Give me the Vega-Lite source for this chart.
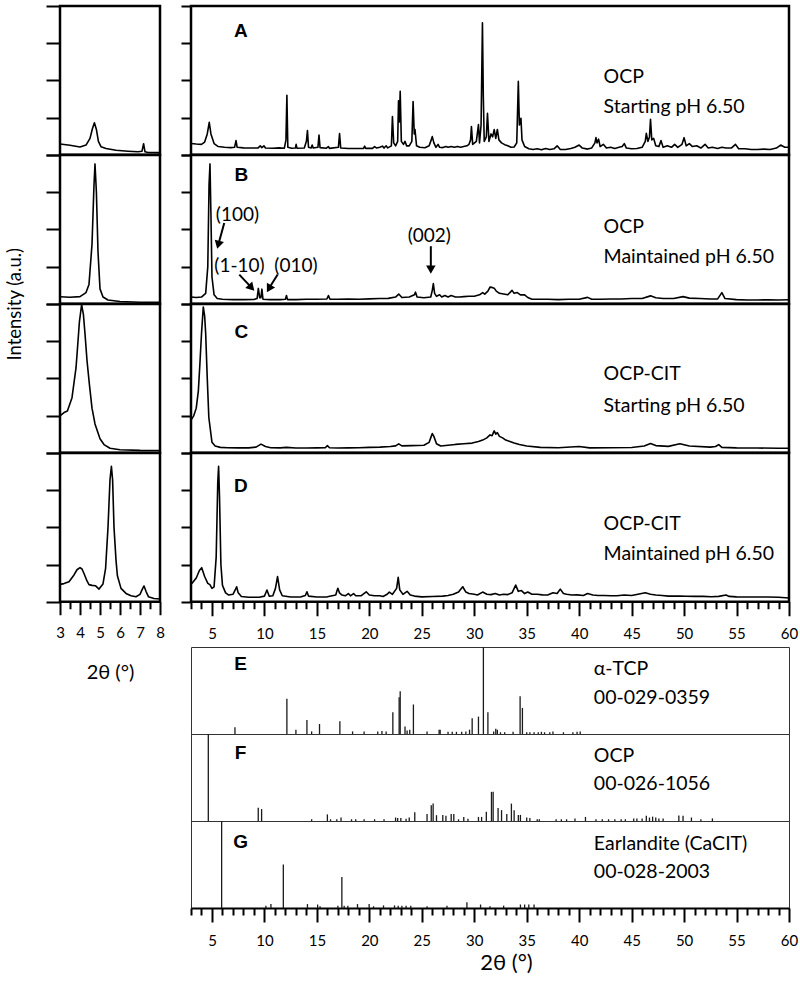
{
  "$schema": "https://vega.github.io/schema/vega-lite/v6.json",
  "background": "white",
  "padding": {"top": 3, "left": 3, "right": 2, "bottom": 2},
  "config": {
    "view": {"stroke": "black", "strokeWidth": 2.5},
    "axis": {
      "domain": false, "grid": false, "tickColor": "black", "tickWidth": 2,
      "labelFont": "Lato, Open Sans, sans-serif", "labelFontSize": 15, "labelColor": "black",
      "titleFont": "Lato, Open Sans, sans-serif", "titleFontWeight": "normal", "titleColor": "black"
    },
    "line": {"color": "black", "strokeWidth": 1.6, "strokeJoin": "round"},
    "rule": {"color": "#1a1a1a", "strokeWidth": 1.3},
    "text": {"font": "Lato, Open Sans, sans-serif", "fontSize": 19.5, "color": "black"}
  },
  "datasets": {
    "zoom": [
      {"panel":"A","tt":3.0,"I":7.2},{"panel":"A","tt":3.5,"I":6.4},{"panel":"A","tt":4.0,"I":5.2},{"panel":"A","tt":4.3,"I":6.5},{"panel":"A","tt":4.5,"I":11},{"panel":"A","tt":4.62,"I":17.5},{"panel":"A","tt":4.72,"I":21.5},{"panel":"A","tt":4.82,"I":17},{"panel":"A","tt":4.92,"I":9},{"panel":"A","tt":5.05,"I":5.4},{"panel":"A","tt":5.3,"I":4.2},{"panel":"A","tt":5.8,"I":3},{"panel":"A","tt":6.4,"I":2.4},{"panel":"A","tt":6.9,"I":2},{"panel":"A","tt":7.1,"I":2.4},{"panel":"A","tt":7.18,"I":7.4},{"panel":"A","tt":7.25,"I":2},{"panel":"A","tt":7.4,"I":1.5},{"panel":"A","tt":8.0,"I":1.4},
      {"panel":"B","tt":3.0,"I":4.7},{"panel":"B","tt":3.5,"I":4.4},{"panel":"B","tt":4.0,"I":4.8},{"panel":"B","tt":4.3,"I":7.5},{"panel":"B","tt":4.45,"I":13},{"panel":"B","tt":4.6,"I":40},{"panel":"B","tt":4.7,"I":80},{"panel":"B","tt":4.75,"I":94},{"panel":"B","tt":4.82,"I":75},{"panel":"B","tt":4.9,"I":35},{"panel":"B","tt":5.0,"I":10},{"panel":"B","tt":5.15,"I":4.5},{"panel":"B","tt":5.4,"I":2.5},{"panel":"B","tt":6.0,"I":1.5},{"panel":"B","tt":7.0,"I":1},{"panel":"B","tt":8.0,"I":1},
      {"panel":"C","tt":3.0,"I":24.8},{"panel":"C","tt":3.2,"I":27},{"panel":"C","tt":3.37,"I":28},{"panel":"C","tt":3.6,"I":37},{"panel":"C","tt":3.8,"I":57},{"panel":"C","tt":3.9,"I":75},{"panel":"C","tt":3.97,"I":88},{"panel":"C","tt":4.08,"I":99.5},{"panel":"C","tt":4.17,"I":93},{"panel":"C","tt":4.25,"I":80},{"panel":"C","tt":4.35,"I":62},{"panel":"C","tt":4.47,"I":46},{"panel":"C","tt":4.6,"I":30},{"panel":"C","tt":4.75,"I":19.4},{"panel":"C","tt":5.0,"I":9.4},{"panel":"C","tt":5.2,"I":5.5},{"panel":"C","tt":5.5,"I":3},{"panel":"C","tt":6.0,"I":2},{"panel":"C","tt":7.0,"I":1.6},{"panel":"C","tt":8.0,"I":1.5},
      {"panel":"D","tt":3.0,"I":11.7},{"panel":"D","tt":3.2,"I":12.2},{"panel":"D","tt":3.45,"I":13.5},{"panel":"D","tt":3.7,"I":18},{"panel":"D","tt":3.85,"I":21.5},{"panel":"D","tt":4.0,"I":22.9},{"panel":"D","tt":4.1,"I":22},{"panel":"D","tt":4.2,"I":19},{"panel":"D","tt":4.35,"I":14},{"panel":"D","tt":4.45,"I":11.5},{"panel":"D","tt":4.6,"I":11},{"panel":"D","tt":4.77,"I":10.8},{"panel":"D","tt":4.95,"I":8.5},{"panel":"D","tt":5.15,"I":12},{"panel":"D","tt":5.28,"I":22.5},{"panel":"D","tt":5.4,"I":50},{"panel":"D","tt":5.5,"I":82},{"panel":"D","tt":5.57,"I":91},{"panel":"D","tt":5.63,"I":82},{"panel":"D","tt":5.7,"I":50},{"panel":"D","tt":5.8,"I":28},{"panel":"D","tt":5.87,"I":17.5},{"panel":"D","tt":6.05,"I":9},{"panel":"D","tt":6.3,"I":5.6},{"panel":"D","tt":6.55,"I":4},{"panel":"D","tt":6.8,"I":3.4},{"panel":"D","tt":7.0,"I":5},{"panel":"D","tt":7.1,"I":8},{"panel":"D","tt":7.2,"I":10.6},{"panel":"D","tt":7.3,"I":7},{"panel":"D","tt":7.42,"I":3.4},{"panel":"D","tt":7.7,"I":2.2},{"panel":"D","tt":8.0,"I":1.8}
    ],
    "scans": [
      {"panel":"A","tt":3.0,"I":7.6},{"panel":"A","tt":3.5,"I":7.2},{"panel":"A","tt":4.0,"I":7.0},{"panel":"A","tt":4.3,"I":8.5},{"panel":"A","tt":4.55,"I":14},{"panel":"A","tt":4.74,"I":21.8},{"panel":"A","tt":4.9,"I":14},{"panel":"A","tt":5.2,"I":7.5},{"panel":"A","tt":5.6,"I":5.5},{"panel":"A","tt":6.2,"I":5},{"panel":"A","tt":6.8,"I":4.8},{"panel":"A","tt":7.15,"I":5},{"panel":"A","tt":7.29,"I":9.5},{"panel":"A","tt":7.4,"I":5},{"panel":"A","tt":8.0,"I":4.6},{"panel":"A","tt":8.8,"I":4.5},{"panel":"A","tt":9.4,"I":4.6},{"panel":"A","tt":9.6,"I":6},{"panel":"A","tt":9.75,"I":4.8},{"panel":"A","tt":9.95,"I":6},{"panel":"A","tt":10.1,"I":4.5},{"panel":"A","tt":10.8,"I":4.4},{"panel":"A","tt":11.4,"I":4.6},{"panel":"A","tt":11.9,"I":4.4},{"panel":"A","tt":12.05,"I":10},{"panel":"A","tt":12.14,"I":40},{"panel":"A","tt":12.23,"I":5},{"panel":"A","tt":12.6,"I":4.4},{"panel":"A","tt":12.95,"I":4.5},{"panel":"A","tt":13.02,"I":7},{"panel":"A","tt":13.1,"I":4.4},{"panel":"A","tt":13.8,"I":4.5},{"panel":"A","tt":14.0,"I":9},{"panel":"A","tt":14.1,"I":16.2},{"panel":"A","tt":14.2,"I":5},{"panel":"A","tt":14.45,"I":4.6},{"panel":"A","tt":14.55,"I":6.5},{"panel":"A","tt":14.65,"I":4.5},{"panel":"A","tt":15.1,"I":5},{"panel":"A","tt":15.2,"I":13.3},{"panel":"A","tt":15.3,"I":4.8},{"panel":"A","tt":15.9,"I":4.4},{"panel":"A","tt":16.1,"I":5.5},{"panel":"A","tt":16.2,"I":4.3},{"panel":"A","tt":17.05,"I":5},{"panel":"A","tt":17.16,"I":14.2},{"panel":"A","tt":17.27,"I":4.5},{"panel":"A","tt":18.0,"I":4.2},{"panel":"A","tt":18.8,"I":4.2},{"panel":"A","tt":19.45,"I":4.3},{"panel":"A","tt":19.55,"I":5.8},{"panel":"A","tt":19.65,"I":4.3},{"panel":"A","tt":20.3,"I":4.3},{"panel":"A","tt":20.5,"I":5.5},{"panel":"A","tt":20.7,"I":4.5},{"panel":"A","tt":21.0,"I":5},{"panel":"A","tt":21.25,"I":5.8},{"panel":"A","tt":21.4,"I":4.5},{"panel":"A","tt":21.6,"I":6},{"panel":"A","tt":21.75,"I":4.6},{"panel":"A","tt":22.1,"I":6},{"panel":"A","tt":22.2,"I":25.7},{"panel":"A","tt":22.32,"I":8},{"panel":"A","tt":22.5,"I":6},{"panel":"A","tt":22.7,"I":9},{"panel":"A","tt":22.78,"I":36.3},{"panel":"A","tt":22.86,"I":22},{"panel":"A","tt":22.94,"I":42.6},{"panel":"A","tt":23.05,"I":9},{"panel":"A","tt":23.25,"I":7},{"panel":"A","tt":23.4,"I":9},{"panel":"A","tt":23.55,"I":6},{"panel":"A","tt":23.8,"I":6},{"panel":"A","tt":24.05,"I":9},{"panel":"A","tt":24.17,"I":35.8},{"panel":"A","tt":24.28,"I":14},{"panel":"A","tt":24.35,"I":17},{"panel":"A","tt":24.5,"I":6},{"panel":"A","tt":24.8,"I":5},{"panel":"A","tt":25.3,"I":4.7},{"panel":"A","tt":25.7,"I":6},{"panel":"A","tt":25.9,"I":10},{"panel":"A","tt":26.0,"I":12.2},{"panel":"A","tt":26.15,"I":8},{"panel":"A","tt":26.35,"I":5},{"panel":"A","tt":26.55,"I":7},{"panel":"A","tt":26.7,"I":5},{"panel":"A","tt":27.0,"I":4.8},{"panel":"A","tt":27.3,"I":5.5},{"panel":"A","tt":27.5,"I":5},{"panel":"A","tt":27.8,"I":5.5},{"panel":"A","tt":28.1,"I":5},{"panel":"A","tt":28.4,"I":5.6},{"panel":"A","tt":28.7,"I":5},{"panel":"A","tt":29.0,"I":5.5},{"panel":"A","tt":29.3,"I":6},{"panel":"A","tt":29.5,"I":7},{"panel":"A","tt":29.65,"I":10},{"panel":"A","tt":29.73,"I":18.9},{"panel":"A","tt":29.85,"I":7},{"panel":"A","tt":30.2,"I":9},{"panel":"A","tt":30.4,"I":20.3},{"panel":"A","tt":30.5,"I":8},{"panel":"A","tt":30.65,"I":20},{"panel":"A","tt":30.78,"I":88.7},{"panel":"A","tt":30.86,"I":40},{"panel":"A","tt":30.95,"I":9},{"panel":"A","tt":31.15,"I":12},{"panel":"A","tt":31.26,"I":27.9},{"panel":"A","tt":31.4,"I":9},{"panel":"A","tt":31.6,"I":14},{"panel":"A","tt":31.75,"I":12},{"panel":"A","tt":31.9,"I":16.9},{"panel":"A","tt":32.05,"I":11},{"panel":"A","tt":32.2,"I":17},{"panel":"A","tt":32.35,"I":10},{"panel":"A","tt":32.6,"I":8},{"panel":"A","tt":32.9,"I":6.8},{"panel":"A","tt":33.2,"I":6},{"panel":"A","tt":33.5,"I":5},{"panel":"A","tt":33.8,"I":5.2},{"panel":"A","tt":34.05,"I":8},{"panel":"A","tt":34.2,"I":49.3},{"panel":"A","tt":34.3,"I":20},{"panel":"A","tt":34.45,"I":24.5},{"panel":"A","tt":34.55,"I":10},{"panel":"A","tt":34.8,"I":5.5},{"panel":"A","tt":35.2,"I":4},{"panel":"A","tt":35.6,"I":3.5},{"panel":"A","tt":36.0,"I":4},{"panel":"A","tt":36.4,"I":3.3},{"panel":"A","tt":36.8,"I":4.2},{"panel":"A","tt":37.2,"I":3.5},{"panel":"A","tt":37.6,"I":4},{"panel":"A","tt":37.9,"I":6},{"panel":"A","tt":38.2,"I":3.5},{"panel":"A","tt":38.7,"I":3.5},{"panel":"A","tt":39.2,"I":4.2},{"panel":"A","tt":39.6,"I":5},{"panel":"A","tt":40.0,"I":6.5},{"panel":"A","tt":40.3,"I":4.5},{"panel":"A","tt":40.8,"I":3.8},{"panel":"A","tt":41.2,"I":4.6},{"panel":"A","tt":41.5,"I":8},{"panel":"A","tt":41.6,"I":11.5},{"panel":"A","tt":41.7,"I":8},{"panel":"A","tt":41.85,"I":10.5},{"panel":"A","tt":42.0,"I":5.5},{"panel":"A","tt":42.3,"I":7},{"panel":"A","tt":42.6,"I":4.5},{"panel":"A","tt":43.0,"I":5},{"panel":"A","tt":43.4,"I":4.2},{"panel":"A","tt":43.8,"I":5},{"panel":"A","tt":44.1,"I":5.5},{"panel":"A","tt":44.3,"I":7.5},{"panel":"A","tt":44.5,"I":4.5},{"panel":"A","tt":45.0,"I":4},{"panel":"A","tt":45.5,"I":4.2},{"panel":"A","tt":46.0,"I":5},{"panel":"A","tt":46.3,"I":9},{"panel":"A","tt":46.4,"I":14.4},{"panel":"A","tt":46.55,"I":9},{"panel":"A","tt":46.7,"I":12},{"panel":"A","tt":46.8,"I":23.9},{"panel":"A","tt":46.92,"I":10},{"panel":"A","tt":47.1,"I":11},{"panel":"A","tt":47.3,"I":6},{"panel":"A","tt":47.6,"I":5.5},{"panel":"A","tt":47.8,"I":9.5},{"panel":"A","tt":48.0,"I":5},{"panel":"A","tt":48.4,"I":6},{"panel":"A","tt":48.8,"I":5},{"panel":"A","tt":49.1,"I":7},{"panel":"A","tt":49.4,"I":5},{"panel":"A","tt":49.8,"I":7},{"panel":"A","tt":50.0,"I":11.5},{"panel":"A","tt":50.2,"I":6},{"panel":"A","tt":50.5,"I":7.5},{"panel":"A","tt":50.8,"I":5.5},{"panel":"A","tt":51.2,"I":6},{"panel":"A","tt":51.6,"I":4.5},{"panel":"A","tt":52.0,"I":7},{"panel":"A","tt":52.3,"I":4.5},{"panel":"A","tt":52.7,"I":5},{"panel":"A","tt":53.2,"I":4.2},{"panel":"A","tt":53.6,"I":5},{"panel":"A","tt":54.0,"I":4.5},{"panel":"A","tt":54.5,"I":4.5},{"panel":"A","tt":54.9,"I":7},{"panel":"A","tt":55.2,"I":4},{"panel":"A","tt":55.8,"I":4},{"panel":"A","tt":56.4,"I":3.5},{"panel":"A","tt":57.0,"I":3.5},{"panel":"A","tt":57.6,"I":3.8},{"panel":"A","tt":58.2,"I":3.5},{"panel":"A","tt":58.8,"I":4.5},{"panel":"A","tt":59.2,"I":6.5},{"panel":"A","tt":59.6,"I":5},{"panel":"A","tt":60.0,"I":5},
      {"panel":"B","tt":3.0,"I":4.5},{"panel":"B","tt":3.5,"I":4.2},{"panel":"B","tt":4.0,"I":4.5},{"panel":"B","tt":4.4,"I":7},{"panel":"B","tt":4.6,"I":25},{"panel":"B","tt":4.72,"I":80},{"panel":"B","tt":4.81,"I":94},{"panel":"B","tt":4.9,"I":60},{"panel":"B","tt":5.0,"I":18},{"panel":"B","tt":5.2,"I":6},{"panel":"B","tt":5.5,"I":3.5},{"panel":"B","tt":6.0,"I":3},{"panel":"B","tt":7.0,"I":2.8},{"panel":"B","tt":8.0,"I":2.8},{"panel":"B","tt":9.0,"I":2.9},{"panel":"B","tt":9.3,"I":3.5},{"panel":"B","tt":9.42,"I":10.3},{"panel":"B","tt":9.55,"I":4},{"panel":"B","tt":9.66,"I":4},{"panel":"B","tt":9.76,"I":9.8},{"panel":"B","tt":9.86,"I":3},{"panel":"B","tt":10.5,"I":2.8},{"panel":"B","tt":11.5,"I":2.8},{"panel":"B","tt":12.0,"I":3},{"panel":"B","tt":12.1,"I":5.5},{"panel":"B","tt":12.2,"I":2.8},{"panel":"B","tt":13.0,"I":2.8},{"panel":"B","tt":14.0,"I":3},{"panel":"B","tt":15.0,"I":3},{"panel":"B","tt":15.95,"I":3.2},{"panel":"B","tt":16.1,"I":5.5},{"panel":"B","tt":16.25,"I":3},{"panel":"B","tt":17.0,"I":3},{"panel":"B","tt":18.0,"I":3.2},{"panel":"B","tt":19.0,"I":3},{"panel":"B","tt":20.0,"I":3.3},{"panel":"B","tt":21.0,"I":3.5},{"panel":"B","tt":21.8,"I":3.6},{"panel":"B","tt":22.5,"I":4.5},{"panel":"B","tt":22.8,"I":6.5},{"panel":"B","tt":23.1,"I":4.2},{"panel":"B","tt":23.8,"I":4.5},{"panel":"B","tt":24.3,"I":6},{"panel":"B","tt":24.4,"I":7.8},{"panel":"B","tt":24.55,"I":4.5},{"panel":"B","tt":25.2,"I":4},{"panel":"B","tt":25.85,"I":4.5},{"panel":"B","tt":26.0,"I":9},{"panel":"B","tt":26.1,"I":13.6},{"panel":"B","tt":26.22,"I":7},{"panel":"B","tt":26.4,"I":5},{"panel":"B","tt":26.7,"I":6},{"panel":"B","tt":26.9,"I":4.5},{"panel":"B","tt":27.2,"I":5.5},{"panel":"B","tt":27.5,"I":4.5},{"panel":"B","tt":27.8,"I":5.5},{"panel":"B","tt":28.2,"I":4.5},{"panel":"B","tt":28.6,"I":4.5},{"panel":"B","tt":29.0,"I":4.8},{"panel":"B","tt":29.5,"I":5},{"panel":"B","tt":30.0,"I":5},{"panel":"B","tt":30.5,"I":6},{"panel":"B","tt":30.8,"I":7.5},{"panel":"B","tt":31.0,"I":6.5},{"panel":"B","tt":31.3,"I":8.5},{"panel":"B","tt":31.5,"I":11.2},{"panel":"B","tt":31.7,"I":11},{"panel":"B","tt":31.9,"I":10.5},{"panel":"B","tt":32.1,"I":8.5},{"panel":"B","tt":32.4,"I":7},{"panel":"B","tt":32.8,"I":6.5},{"panel":"B","tt":33.2,"I":6},{"panel":"B","tt":33.6,"I":9},{"panel":"B","tt":33.8,"I":7},{"panel":"B","tt":34.1,"I":7.5},{"panel":"B","tt":34.4,"I":6},{"panel":"B","tt":34.8,"I":6},{"panel":"B","tt":35.1,"I":4.2},{"panel":"B","tt":35.5,"I":3},{"panel":"B","tt":36.0,"I":3},{"panel":"B","tt":37.0,"I":3},{"panel":"B","tt":38.0,"I":2.8},{"panel":"B","tt":39.0,"I":3},{"panel":"B","tt":40.0,"I":3},{"panel":"B","tt":40.8,"I":4.3},{"panel":"B","tt":41.2,"I":3},{"panel":"B","tt":42.0,"I":3},{"panel":"B","tt":43.0,"I":3.2},{"panel":"B","tt":44.0,"I":3.2},{"panel":"B","tt":45.0,"I":3.5},{"panel":"B","tt":46.0,"I":3.5},{"panel":"B","tt":46.8,"I":5.3},{"panel":"B","tt":47.3,"I":4},{"panel":"B","tt":48.0,"I":3.5},{"panel":"B","tt":49.0,"I":3.5},{"panel":"B","tt":49.9,"I":4.8},{"panel":"B","tt":50.5,"I":3.8},{"panel":"B","tt":51.5,"I":3.5},{"panel":"B","tt":52.5,"I":3.2},{"panel":"B","tt":53.2,"I":3.3},{"panel":"B","tt":53.6,"I":7.5},{"panel":"B","tt":53.9,"I":3.5},{"panel":"B","tt":55.0,"I":2.8},{"panel":"B","tt":56.0,"I":2.5},{"panel":"B","tt":57.0,"I":2.5},{"panel":"B","tt":58.0,"I":2.7},{"panel":"B","tt":59.0,"I":2.5},{"panel":"B","tt":60.0,"I":2.7},
      {"panel":"C","tt":3.0,"I":22},{"panel":"C","tt":3.26,"I":24.8},{"panel":"C","tt":3.5,"I":30},{"panel":"C","tt":3.7,"I":41.6},{"panel":"C","tt":3.85,"I":60},{"panel":"C","tt":4.0,"I":80},{"panel":"C","tt":4.17,"I":98},{"panel":"C","tt":4.3,"I":92},{"panel":"C","tt":4.4,"I":80},{"panel":"C","tt":4.55,"I":50},{"panel":"C","tt":4.7,"I":23.7},{"panel":"C","tt":5.0,"I":7},{"panel":"C","tt":5.3,"I":4.5},{"panel":"C","tt":5.8,"I":3.6},{"panel":"C","tt":6.5,"I":3.4},{"panel":"C","tt":7.5,"I":3.3},{"panel":"C","tt":8.5,"I":3.3},{"panel":"C","tt":9.2,"I":3.8},{"panel":"C","tt":9.67,"I":5.8},{"panel":"C","tt":10.1,"I":4.2},{"panel":"C","tt":10.6,"I":3.4},{"panel":"C","tt":11.5,"I":3.3},{"panel":"C","tt":12.1,"I":3.6},{"panel":"C","tt":13.0,"I":3.2},{"panel":"C","tt":14.0,"I":3.2},{"panel":"C","tt":15.0,"I":3.3},{"panel":"C","tt":15.8,"I":3.4},{"panel":"C","tt":16.0,"I":4.8},{"panel":"C","tt":16.2,"I":3.4},{"panel":"C","tt":17.0,"I":3.2},{"panel":"C","tt":18.0,"I":3.3},{"panel":"C","tt":19.0,"I":3.4},{"panel":"C","tt":20.0,"I":3.6},{"panel":"C","tt":21.0,"I":3.8},{"panel":"C","tt":22.0,"I":4.2},{"panel":"C","tt":22.5,"I":4.6},{"panel":"C","tt":22.8,"I":6},{"panel":"C","tt":23.1,"I":4.6},{"panel":"C","tt":24.0,"I":4.8},{"panel":"C","tt":25.2,"I":5},{"panel":"C","tt":25.7,"I":7},{"panel":"C","tt":25.9,"I":11},{"panel":"C","tt":26.0,"I":12.9},{"panel":"C","tt":26.15,"I":11},{"panel":"C","tt":26.4,"I":6},{"panel":"C","tt":26.8,"I":4.5},{"panel":"C","tt":27.5,"I":5},{"panel":"C","tt":28.2,"I":5.6},{"panel":"C","tt":29.0,"I":6},{"panel":"C","tt":29.8,"I":6.5},{"panel":"C","tt":30.4,"I":7.5},{"panel":"C","tt":30.8,"I":8.5},{"panel":"C","tt":31.2,"I":10},{"panel":"C","tt":31.5,"I":12},{"panel":"C","tt":31.7,"I":11.5},{"panel":"C","tt":31.9,"I":14.7},{"panel":"C","tt":32.05,"I":12.5},{"panel":"C","tt":32.2,"I":13.5},{"panel":"C","tt":32.4,"I":11},{"panel":"C","tt":32.7,"I":10},{"panel":"C","tt":33.0,"I":8.5},{"panel":"C","tt":33.4,"I":7.5},{"panel":"C","tt":33.8,"I":6.5},{"panel":"C","tt":34.3,"I":5.5},{"panel":"C","tt":35.0,"I":4.5},{"panel":"C","tt":36.3,"I":3.6},{"panel":"C","tt":38.0,"I":3.4},{"panel":"C","tt":40.0,"I":4.2},{"panel":"C","tt":41.0,"I":3.3},{"panel":"C","tt":43.0,"I":3.4},{"panel":"C","tt":45.0,"I":3.5},{"panel":"C","tt":46.2,"I":4.5},{"panel":"C","tt":46.8,"I":6.2},{"panel":"C","tt":47.3,"I":4.8},{"panel":"C","tt":48.5,"I":4.3},{"panel":"C","tt":49.6,"I":6},{"panel":"C","tt":50.5,"I":4.5},{"panel":"C","tt":52.5,"I":3.8},{"panel":"C","tt":53.0,"I":4.2},{"panel":"C","tt":53.3,"I":5.5},{"panel":"C","tt":53.6,"I":3.6},{"panel":"C","tt":55.0,"I":3.3},{"panel":"C","tt":57.0,"I":3.2},{"panel":"C","tt":59.0,"I":3},{"panel":"C","tt":60.0,"I":3},
      {"panel":"D","tt":3.0,"I":12},{"panel":"D","tt":3.1,"I":12.4},{"panel":"D","tt":3.5,"I":16},{"panel":"D","tt":3.8,"I":21},{"panel":"D","tt":4.02,"I":22.9},{"panel":"D","tt":4.3,"I":17},{"panel":"D","tt":4.6,"I":12.4},{"panel":"D","tt":4.8,"I":11.5},{"panel":"D","tt":5.0,"I":9},{"panel":"D","tt":5.2,"I":10},{"panel":"D","tt":5.4,"I":30},{"panel":"D","tt":5.55,"I":80},{"panel":"D","tt":5.63,"I":91},{"panel":"D","tt":5.72,"I":70},{"panel":"D","tt":5.85,"I":25},{"panel":"D","tt":6.0,"I":11},{"panel":"D","tt":6.3,"I":6},{"panel":"D","tt":6.6,"I":4.5},{"panel":"D","tt":7.0,"I":5},{"panel":"D","tt":7.25,"I":8.5},{"panel":"D","tt":7.35,"I":10.1},{"panel":"D","tt":7.5,"I":6},{"panel":"D","tt":7.8,"I":3.5},{"panel":"D","tt":8.5,"I":3},{"panel":"D","tt":9.5,"I":3},{"panel":"D","tt":10.0,"I":3.8},{"panel":"D","tt":10.24,"I":7.9},{"panel":"D","tt":10.45,"I":3.8},{"panel":"D","tt":10.8,"I":4},{"panel":"D","tt":11.05,"I":9},{"panel":"D","tt":11.25,"I":16.9},{"panel":"D","tt":11.45,"I":8},{"panel":"D","tt":11.7,"I":4},{"panel":"D","tt":12.5,"I":3.2},{"panel":"D","tt":13.5,"I":3.3},{"panel":"D","tt":13.9,"I":4.2},{"panel":"D","tt":14.05,"I":6.7},{"panel":"D","tt":14.2,"I":3.8},{"panel":"D","tt":15.0,"I":3.2},{"panel":"D","tt":16.0,"I":3.3},{"panel":"D","tt":16.8,"I":4.5},{"panel":"D","tt":16.9,"I":7},{"panel":"D","tt":17.0,"I":9},{"panel":"D","tt":17.15,"I":6},{"panel":"D","tt":17.4,"I":4.5},{"panel":"D","tt":17.7,"I":4},{"panel":"D","tt":18.0,"I":5.5},{"panel":"D","tt":18.2,"I":4},{"panel":"D","tt":18.5,"I":5.5},{"panel":"D","tt":18.7,"I":4},{"panel":"D","tt":19.2,"I":4},{"panel":"D","tt":19.7,"I":6.7},{"panel":"D","tt":20.0,"I":4.5},{"panel":"D","tt":20.5,"I":4},{"panel":"D","tt":21.0,"I":4},{"panel":"D","tt":21.3,"I":3.5},{"panel":"D","tt":21.7,"I":5},{"panel":"D","tt":21.9,"I":6.5},{"panel":"D","tt":22.2,"I":5},{"panel":"D","tt":22.6,"I":9},{"panel":"D","tt":22.75,"I":16.4},{"panel":"D","tt":22.9,"I":8},{"panel":"D","tt":23.2,"I":5},{"panel":"D","tt":23.6,"I":7},{"panel":"D","tt":23.9,"I":4.5},{"panel":"D","tt":24.3,"I":3.8},{"panel":"D","tt":25.0,"I":3.3},{"panel":"D","tt":26.0,"I":3.5},{"panel":"D","tt":27.0,"I":3.8},{"panel":"D","tt":27.5,"I":4.2},{"panel":"D","tt":28.0,"I":5},{"panel":"D","tt":28.5,"I":6.5},{"panel":"D","tt":28.9,"I":10.1},{"panel":"D","tt":29.2,"I":6.5},{"panel":"D","tt":29.5,"I":5.5},{"panel":"D","tt":30.0,"I":5},{"panel":"D","tt":30.3,"I":4.5},{"panel":"D","tt":30.8,"I":6.5},{"panel":"D","tt":31.2,"I":5},{"panel":"D","tt":31.6,"I":4.8},{"panel":"D","tt":32.0,"I":5.5},{"panel":"D","tt":32.4,"I":4.5},{"panel":"D","tt":32.8,"I":5},{"panel":"D","tt":33.2,"I":4.8},{"panel":"D","tt":33.6,"I":6},{"panel":"D","tt":33.95,"I":11.2},{"panel":"D","tt":34.2,"I":7},{"panel":"D","tt":34.5,"I":7.5},{"panel":"D","tt":34.8,"I":5.5},{"panel":"D","tt":35.1,"I":6.5},{"panel":"D","tt":35.5,"I":5},{"panel":"D","tt":36.0,"I":5},{"panel":"D","tt":36.5,"I":4.6},{"panel":"D","tt":37.0,"I":4.5},{"panel":"D","tt":37.5,"I":6},{"panel":"D","tt":37.9,"I":5.5},{"panel":"D","tt":38.2,"I":8.5},{"panel":"D","tt":38.5,"I":5.5},{"panel":"D","tt":38.8,"I":5},{"panel":"D","tt":39.3,"I":4.5},{"panel":"D","tt":39.8,"I":4.6},{"panel":"D","tt":40.4,"I":4.2},{"panel":"D","tt":40.8,"I":5.5},{"panel":"D","tt":41.3,"I":4.5},{"panel":"D","tt":41.8,"I":4.2},{"panel":"D","tt":42.4,"I":4.2},{"panel":"D","tt":43.0,"I":4},{"panel":"D","tt":43.6,"I":4},{"panel":"D","tt":44.3,"I":4.5},{"panel":"D","tt":45.0,"I":4.2},{"panel":"D","tt":45.6,"I":5},{"panel":"D","tt":46.3,"I":6},{"panel":"D","tt":46.8,"I":5},{"panel":"D","tt":47.3,"I":4.5},{"panel":"D","tt":47.9,"I":4.2},{"panel":"D","tt":48.5,"I":3.8},{"panel":"D","tt":49.0,"I":3.8},{"panel":"D","tt":49.6,"I":3.8},{"panel":"D","tt":50.2,"I":3.7},{"panel":"D","tt":51.0,"I":3.6},{"panel":"D","tt":51.8,"I":3.6},{"panel":"D","tt":52.6,"I":3.4},{"panel":"D","tt":53.3,"I":3.6},{"panel":"D","tt":54.0,"I":4.5},{"panel":"D","tt":54.3,"I":3.6},{"panel":"D","tt":55.0,"I":3.3},{"panel":"D","tt":56.0,"I":3.2},{"panel":"D","tt":57.0,"I":3.2},{"panel":"D","tt":58.0,"I":3.2},{"panel":"D","tt":59.0,"I":3},{"panel":"D","tt":60.0,"I":2.5}
    ],
    "sticks": [
      {"panel":"E","tt":7.19,"I":7.7},{"panel":"E","tt":12.14,"I":40.4},{"panel":"E","tt":13.0,"I":5},{"panel":"E","tt":14.05,"I":16.2},{"panel":"E","tt":14.5,"I":3},{"panel":"E","tt":15.25,"I":11.5},{"panel":"E","tt":17.19,"I":14.6},{"panel":"E","tt":18.4,"I":3},{"panel":"E","tt":19.5,"I":3},{"panel":"E","tt":20.8,"I":3},{"panel":"E","tt":21.2,"I":3.5},{"panel":"E","tt":21.6,"I":3},{"panel":"E","tt":22.24,"I":25},{"panel":"E","tt":22.84,"I":42.3},{"panel":"E","tt":22.94,"I":49.2},{"panel":"E","tt":23.4,"I":8.5},{"panel":"E","tt":23.6,"I":4},{"panel":"E","tt":23.85,"I":5},{"panel":"E","tt":24.2,"I":33.9},{"panel":"E","tt":25.5,"I":3},{"panel":"E","tt":26.65,"I":5},{"panel":"E","tt":26.75,"I":5},{"panel":"E","tt":27.5,"I":2.5},{"panel":"E","tt":27.9,"I":2.5},{"panel":"E","tt":28.3,"I":2.5},{"panel":"E","tt":28.8,"I":2.5},{"panel":"E","tt":29.2,"I":3},{"panel":"E","tt":29.55,"I":5},{"panel":"E","tt":29.8,"I":18},{"panel":"E","tt":30.4,"I":20},{"panel":"E","tt":30.87,"I":100},{"panel":"E","tt":31.3,"I":25},{"panel":"E","tt":31.85,"I":3},{"panel":"E","tt":32.05,"I":6},{"panel":"E","tt":32.2,"I":5},{"panel":"E","tt":32.5,"I":2},{"panel":"E","tt":32.9,"I":2},{"panel":"E","tt":33.7,"I":2.5},{"panel":"E","tt":34.37,"I":43.5},{"panel":"E","tt":34.59,"I":30},{"panel":"E","tt":35.0,"I":2},{"panel":"E","tt":35.3,"I":2},{"panel":"E","tt":35.7,"I":2},{"panel":"E","tt":36.1,"I":2},{"panel":"E","tt":36.4,"I":2.5},{"panel":"E","tt":36.7,"I":2},{"panel":"E","tt":37.2,"I":2},{"panel":"E","tt":37.5,"I":3},{"panel":"E","tt":38.5,"I":2},{"panel":"E","tt":39.4,"I":2},{"panel":"E","tt":39.8,"I":2.5},{"panel":"E","tt":40.1,"I":3},
      {"panel":"F","tt":4.65,"I":100},{"panel":"F","tt":9.41,"I":15.2},{"panel":"F","tt":9.73,"I":13.7},{"panel":"F","tt":14.5,"I":2},{"panel":"F","tt":16.0,"I":7.6},{"panel":"F","tt":16.3,"I":2},{"panel":"F","tt":16.9,"I":2},{"panel":"F","tt":17.3,"I":4},{"panel":"F","tt":18.3,"I":2},{"panel":"F","tt":18.7,"I":2},{"panel":"F","tt":19.5,"I":2},{"panel":"F","tt":20.5,"I":2},{"panel":"F","tt":21.4,"I":2},{"panel":"F","tt":22.5,"I":4},{"panel":"F","tt":22.7,"I":3.5},{"panel":"F","tt":23.0,"I":3.5},{"panel":"F","tt":23.5,"I":2.5},{"panel":"F","tt":23.8,"I":4},{"panel":"F","tt":24.33,"I":10},{"panel":"F","tt":25.5,"I":8},{"panel":"F","tt":25.9,"I":18},{"panel":"F","tt":26.08,"I":20},{"panel":"F","tt":26.4,"I":6.7},{"panel":"F","tt":27.0,"I":7},{"panel":"F","tt":27.3,"I":6},{"panel":"F","tt":27.8,"I":8},{"panel":"F","tt":28.05,"I":8},{"panel":"F","tt":28.5,"I":2},{"panel":"F","tt":29.0,"I":4.7},{"panel":"F","tt":29.4,"I":2.5},{"panel":"F","tt":30.4,"I":4.7},{"panel":"F","tt":30.7,"I":4.7},{"panel":"F","tt":31.15,"I":10.5},{"panel":"F","tt":31.64,"I":33.5},{"panel":"F","tt":31.8,"I":33.5},{"panel":"F","tt":32.27,"I":15},{"panel":"F","tt":32.6,"I":12.5},{"panel":"F","tt":33.1,"I":8},{"panel":"F","tt":33.54,"I":20},{"panel":"F","tt":33.8,"I":12.5},{"panel":"F","tt":34.2,"I":7},{"panel":"F","tt":34.4,"I":7},{"panel":"F","tt":35.0,"I":4},{"panel":"F","tt":35.3,"I":3.5},{"panel":"F","tt":36.0,"I":2},{"panel":"F","tt":36.2,"I":2},{"panel":"F","tt":37.8,"I":2},{"panel":"F","tt":38.3,"I":2},{"panel":"F","tt":38.8,"I":2},{"panel":"F","tt":39.6,"I":3},{"panel":"F","tt":40.6,"I":4.7},{"panel":"F","tt":41.6,"I":2},{"panel":"F","tt":42.2,"I":2},{"panel":"F","tt":42.8,"I":2},{"panel":"F","tt":43.4,"I":2},{"panel":"F","tt":44.0,"I":2},{"panel":"F","tt":44.4,"I":2},{"panel":"F","tt":45.2,"I":3},{"panel":"F","tt":45.5,"I":3},{"panel":"F","tt":46.0,"I":3},{"panel":"F","tt":46.4,"I":6},{"panel":"F","tt":46.7,"I":4},{"panel":"F","tt":47.0,"I":5},{"panel":"F","tt":47.3,"I":4},{"panel":"F","tt":47.6,"I":3},{"panel":"F","tt":48.0,"I":3},{"panel":"F","tt":49.5,"I":6.3},{"panel":"F","tt":49.9,"I":6},{"panel":"F","tt":50.7,"I":4},{"panel":"F","tt":51.6,"I":2},{"panel":"F","tt":52.7,"I":3},
      {"panel":"G","tt":5.92,"I":100},{"panel":"G","tt":10.14,"I":2.5},{"panel":"G","tt":10.62,"I":4.5},{"panel":"G","tt":11.8,"I":50},{"panel":"G","tt":14.1,"I":4.5},{"panel":"G","tt":15.07,"I":4},{"panel":"G","tt":15.3,"I":2},{"panel":"G","tt":17.0,"I":2.7},{"panel":"G","tt":17.38,"I":35.7},{"panel":"G","tt":17.6,"I":2.7},{"panel":"G","tt":17.95,"I":2.7},{"panel":"G","tt":18.87,"I":4.5},{"panel":"G","tt":19.98,"I":4.5},{"panel":"G","tt":20.4,"I":2},{"panel":"G","tt":21.35,"I":3},{"panel":"G","tt":22.4,"I":3},{"panel":"G","tt":22.75,"I":2.7},{"panel":"G","tt":23.1,"I":2.7},{"panel":"G","tt":23.5,"I":2.7},{"panel":"G","tt":23.95,"I":2.7},{"panel":"G","tt":25.5,"I":2},{"panel":"G","tt":27.4,"I":2.7},{"panel":"G","tt":29.3,"I":6.5},{"panel":"G","tt":30.6,"I":4},{"panel":"G","tt":31.5,"I":2},{"panel":"G","tt":32.8,"I":2.7},{"panel":"G","tt":34.4,"I":4},{"panel":"G","tt":34.8,"I":4},{"panel":"G","tt":35.2,"I":4},{"panel":"G","tt":35.7,"I":4}
    ],
    "letters": [
      {"panel":"A","text":"A","tt":7.76,"I":83.2},{"panel":"B","text":"B","tt":7.8,"I":86.7},{"panel":"C","text":"C","tt":7.8,"I":81.2},{"panel":"D","text":"D","tt":7.76,"I":77.6},
      {"panel":"E","text":"E","tt":7.73,"I":79.9},{"panel":"F","text":"F","tt":7.73,"I":78.2},{"panel":"G","text":"G","tt":7.73,"I":75.3}
    ],
    "notes": [
      {"panel":"A","text":"OCP","tt":42.33,"I":48.2},{"panel":"A","text":"Starting pH 6.50","tt":42.33,"I":28.1},
      {"panel":"B","text":"OCP","tt":42.33,"I":47.4},{"panel":"B","text":"Maintained pH 6.50","tt":42.33,"I":27.2},
      {"panel":"C","text":"OCP-CIT","tt":42.33,"I":49.0},{"panel":"C","text":"Starting pH 6.50","tt":42.33,"I":27.7},
      {"panel":"D","text":"OCP-CIT","tt":42.33,"I":48.2},{"panel":"D","text":"Maintained pH 6.50","tt":42.33,"I":28.0},
      {"panel":"E","text":"α-TCP","tt":41.4,"I":67.5},{"panel":"E","text":"00-029-0359","tt":41.4,"I":34.8},
      {"panel":"F","text":"OCP","tt":41.4,"I":67.8},{"panel":"F","text":"00-026-1056","tt":41.4,"I":35.3},
      {"panel":"G","text":"Earlandite (CaCIT)","tt":41.4,"I":66.3},{"panel":"G","text":"00-028-2003","tt":41.4,"I":34.5}
    ],
    "hkl": [
      {"text":"(100)","tt":7.43,"I":59.8},{"text":"(1-10)","tt":7.62,"I":25.2},{"text":"(010)","tt":13.0,"I":25.2},{"text":"(002)","tt":25.71,"I":45.4}
    ],
    "arrows": [
      {"hkl":"(100)","tt":6.17,"I":54.3,"tt2":5.6,"I2":39.6},
      {"hkl":"(1-10)","tt":7.6,"I":19.6,"tt2":8.77,"I2":10.8},
      {"hkl":"(010)","tt":11.26,"I":19.6,"tt2":10.43,"I2":10.2},
      {"hkl":"(002)","tt":25.86,"I":38.7,"tt2":25.86,"I2":23.0}
    ]
  },
  "hconcat": [
    {
      "vconcat": [
        {
          "width": 100, "height": 148.75,
          "data": {"name": "zoom"}, "transform": [{"filter": "datum.panel === 'A'"}],
          "mark": "line",
          "encoding": {
            "x": {"field": "tt", "type": "quantitative", "scale": {"domain": [3, 8], "nice": false, "zero": false}, "axis": null},
            "y": {"field": "I", "type": "quantitative", "scale": {"domain": [0, 100], "nice": false}, "axis": {"values": [0, 25, 50, 75, 100], "labels": false, "tickSize": 14, "title": null}}
          }
        },
        {
          "width": 100, "height": 148.75,
          "data": {"name": "zoom"}, "transform": [{"filter": "datum.panel === 'B'"}],
          "mark": "line",
          "encoding": {
            "x": {"field": "tt", "type": "quantitative", "scale": {"domain": [3, 8], "nice": false, "zero": false}, "axis": null},
            "y": {"field": "I", "type": "quantitative", "scale": {"domain": [0, 100], "nice": false}, "axis": {"values": [0, 25, 50, 75, 100], "labels": false, "tickSize": 14, "title": "Intensity (a.u.)", "titleFontSize": 18.5, "titleY": 148.75, "titlePadding": 21}}
          }
        },
        {
          "width": 100, "height": 148.75,
          "data": {"name": "zoom"}, "transform": [{"filter": "datum.panel === 'C'"}],
          "mark": "line",
          "encoding": {
            "x": {"field": "tt", "type": "quantitative", "scale": {"domain": [3, 8], "nice": false, "zero": false}, "axis": null},
            "y": {"field": "I", "type": "quantitative", "scale": {"domain": [0, 100], "nice": false}, "axis": {"values": [0, 25, 50, 75, 100], "labels": false, "tickSize": 14, "title": null}}
          }
        },
        {
          "width": 100, "height": 148.75,
          "data": {"name": "zoom"}, "transform": [{"filter": "datum.panel === 'D'"}],
          "mark": "line",
          "encoding": {
            "x": {"field": "tt", "type": "quantitative", "scale": {"domain": [3, 8], "nice": false, "zero": false},
                  "axis": {"values": [3, 3.5, 4, 4.5, 5, 5.5, 6, 6.5, 7, 7.5, 8],
                           "tickSize": {"condition": {"test": "datum.value % 1 === 0", "value": 13}, "value": 7},
                           "labelExpr": "datum.value % 1 === 0 ? '' + datum.value : ''",
                           "labelOverlap": false, "labelFlush": false, "labelBound": false, "labelPadding": 11,
                           "title": "2θ (°)", "titleFontSize": 20, "titlePadding": 22}},
            "y": {"field": "I", "type": "quantitative", "scale": {"domain": [0, 100], "nice": false}, "axis": {"values": [0, 25, 50, 75, 100], "labels": false, "tickSize": 14, "title": null}}
          }
        }
      ],
      "spacing": 0, "bounds": "flush"
    },
    {
      "vconcat": [
        {
          "width": 598, "height": 148.75,
          "encoding": {
            "x": {"field": "tt", "type": "quantitative", "scale": {"domain": [3, 60], "nice": false, "zero": false}, "axis": null},
            "y": {"field": "I", "type": "quantitative", "scale": {"domain": [0, 100], "nice": false}, "axis": {"values": [0, 25, 50, 75, 100], "labels": false, "tickSize": 10, "title": null}}
          },
          "layer": [
            {"data": {"name": "scans"}, "transform": [{"filter": "datum.panel === 'A'"}], "mark": "line"},
            {"data": {"name": "letters"}, "transform": [{"filter": "datum.panel === 'A'"}], "mark": {"type": "text", "font": "Liberation Sans", "fontWeight": "bold", "fontSize": 19, "baseline": "middle"}, "encoding": {"text": {"field": "text"}}},
            {"data": {"name": "notes"}, "transform": [{"filter": "datum.panel === 'A'"}], "mark": {"type": "text", "align": "left", "baseline": "alphabetic"}, "encoding": {"text": {"field": "text"}}}
          ]
        },
        {
          "width": 598, "height": 148.75,
          "encoding": {
            "x": {"field": "tt", "type": "quantitative", "scale": {"domain": [3, 60], "nice": false, "zero": false}, "axis": null},
            "y": {"field": "I", "type": "quantitative", "scale": {"domain": [0, 100], "nice": false}, "axis": {"values": [0, 25, 50, 75, 100], "labels": false, "tickSize": 10, "title": null}}
          },
          "layer": [
            {"data": {"name": "scans"}, "transform": [{"filter": "datum.panel === 'B'"}], "mark": "line"},
            {"data": {"name": "letters"}, "transform": [{"filter": "datum.panel === 'B'"}], "mark": {"type": "text", "font": "Liberation Sans", "fontWeight": "bold", "fontSize": 19, "baseline": "middle"}, "encoding": {"text": {"field": "text"}}},
            {"data": {"name": "notes"}, "transform": [{"filter": "datum.panel === 'B'"}], "mark": {"type": "text", "align": "left", "baseline": "alphabetic"}, "encoding": {"text": {"field": "text"}}},
            {"data": {"name": "hkl"}, "mark": {"type": "text", "baseline": "middle", "fontSize": 19}, "encoding": {"text": {"field": "text"}}},
            {"data": {"name": "arrows"}, "mark": {"type": "rule", "color": "black", "strokeWidth": 2}, "encoding": {"x2": {"field": "tt2"}, "y2": {"field": "I2"}}},
            {"data": {"name": "arrows"}, "transform": [{"filter": "datum.hkl === '(100)'"}], "mark": {"type": "point", "shape": "triangle-down", "filled": true, "color": "black", "opacity": 1, "size": 90, "angle": 15}, "encoding": {"x": {"field": "tt2", "type": "quantitative"}, "y": {"field": "I2", "type": "quantitative"}}},
            {"data": {"name": "arrows"}, "transform": [{"filter": "datum.hkl === '(1-10)'"}], "mark": {"type": "point", "shape": "triangle-down", "filled": true, "color": "black", "opacity": 1, "size": 90, "angle": -43}, "encoding": {"x": {"field": "tt2", "type": "quantitative"}, "y": {"field": "I2", "type": "quantitative"}}},
            {"data": {"name": "arrows"}, "transform": [{"filter": "datum.hkl === '(010)'"}], "mark": {"type": "point", "shape": "triangle-down", "filled": true, "color": "black", "opacity": 1, "size": 90, "angle": 30}, "encoding": {"x": {"field": "tt2", "type": "quantitative"}, "y": {"field": "I2", "type": "quantitative"}}},
            {"data": {"name": "arrows"}, "transform": [{"filter": "datum.hkl === '(002)'"}], "mark": {"type": "point", "shape": "triangle-down", "filled": true, "color": "black", "opacity": 1, "size": 90, "angle": 0}, "encoding": {"x": {"field": "tt2", "type": "quantitative"}, "y": {"field": "I2", "type": "quantitative"}}}
          ]
        },
        {
          "width": 598, "height": 148.75,
          "encoding": {
            "x": {"field": "tt", "type": "quantitative", "scale": {"domain": [3, 60], "nice": false, "zero": false}, "axis": null},
            "y": {"field": "I", "type": "quantitative", "scale": {"domain": [0, 100], "nice": false}, "axis": {"values": [0, 25, 50, 75, 100], "labels": false, "tickSize": 10, "title": null}}
          },
          "layer": [
            {"data": {"name": "scans"}, "transform": [{"filter": "datum.panel === 'C'"}], "mark": "line"},
            {"data": {"name": "letters"}, "transform": [{"filter": "datum.panel === 'C'"}], "mark": {"type": "text", "font": "Liberation Sans", "fontWeight": "bold", "fontSize": 19, "baseline": "middle"}, "encoding": {"text": {"field": "text"}}},
            {"data": {"name": "notes"}, "transform": [{"filter": "datum.panel === 'C'"}], "mark": {"type": "text", "align": "left", "baseline": "alphabetic"}, "encoding": {"text": {"field": "text"}}}
          ]
        },
        {
          "width": 598, "height": 148.75,
          "encoding": {
            "x": {"field": "tt", "type": "quantitative", "scale": {"domain": [3, 60], "nice": false, "zero": false},
                  "axis": {"values": [3,4,5,6,7,8,9,10,11,12,13,14,15,16,17,18,19,20,21,22,23,24,25,26,27,28,29,30,31,32,33,34,35,36,37,38,39,40,41,42,43,44,45,46,47,48,49,50,51,52,53,54,55,56,57,58,59,60],
                           "tickSize": {"condition": {"test": "datum.value % 5 === 0", "value": 14}, "value": 7},
                           "labelExpr": "datum.value % 5 === 0 ? datum.label : ''",
                           "labelOverlap": false, "labelFlush": false, "labelBound": false, "labelPadding": 11, "title": null}},
            "y": {"field": "I", "type": "quantitative", "scale": {"domain": [0, 100], "nice": false}, "axis": {"values": [0, 25, 50, 75, 100], "labels": false, "tickSize": 10, "title": null}}
          },
          "layer": [
            {"data": {"name": "scans"}, "transform": [{"filter": "datum.panel === 'D'"}], "mark": "line"},
            {"data": {"name": "letters"}, "transform": [{"filter": "datum.panel === 'D'"}], "mark": {"type": "text", "font": "Liberation Sans", "fontWeight": "bold", "fontSize": 19, "baseline": "middle"}, "encoding": {"text": {"field": "text"}}},
            {"data": {"name": "notes"}, "transform": [{"filter": "datum.panel === 'D'"}], "mark": {"type": "text", "align": "left", "baseline": "alphabetic"}, "encoding": {"text": {"field": "text"}}}
          ]
        },
        {
          "width": 598, "height": 45,
          "view": {"stroke": null},
          "data": {"values": []},
          "mark": {"type": "text"},
          "encoding": {}
        },
        {
          "width": 598, "height": 87,
          "view": {"stroke": "#333333", "strokeWidth": 1},
          "encoding": {
            "x": {"field": "tt", "type": "quantitative", "scale": {"domain": [3, 60], "nice": false, "zero": false}, "axis": null},
            "y": {"field": "I", "type": "quantitative", "scale": {"domain": [0, 100], "nice": false}, "axis": null}
          },
          "layer": [
            {"data": {"name": "sticks"}, "transform": [{"filter": "datum.panel === 'E'"}], "mark": "rule", "encoding": {"y2": {"datum": 0}}},
            {"data": {"name": "letters"}, "transform": [{"filter": "datum.panel === 'E'"}], "mark": {"type": "text", "font": "Liberation Sans", "fontWeight": "bold", "fontSize": 19, "baseline": "middle"}, "encoding": {"text": {"field": "text"}}},
            {"data": {"name": "notes"}, "transform": [{"filter": "datum.panel === 'E'"}], "mark": {"type": "text", "align": "left", "baseline": "alphabetic"}, "encoding": {"text": {"field": "text"}}}
          ]
        },
        {
          "width": 598, "height": 87,
          "view": {"stroke": "#333333", "strokeWidth": 1},
          "encoding": {
            "x": {"field": "tt", "type": "quantitative", "scale": {"domain": [3, 60], "nice": false, "zero": false}, "axis": null},
            "y": {"field": "I", "type": "quantitative", "scale": {"domain": [0, 100], "nice": false}, "axis": null}
          },
          "layer": [
            {"data": {"name": "sticks"}, "transform": [{"filter": "datum.panel === 'F'"}], "mark": "rule", "encoding": {"y2": {"datum": 0}}},
            {"data": {"name": "letters"}, "transform": [{"filter": "datum.panel === 'F'"}], "mark": {"type": "text", "font": "Liberation Sans", "fontWeight": "bold", "fontSize": 19, "baseline": "middle"}, "encoding": {"text": {"field": "text"}}},
            {"data": {"name": "notes"}, "transform": [{"filter": "datum.panel === 'F'"}], "mark": {"type": "text", "align": "left", "baseline": "alphabetic"}, "encoding": {"text": {"field": "text"}}}
          ]
        },
        {
          "width": 598, "height": 87,
          "view": {"stroke": "#333333", "strokeWidth": 1},
          "encoding": {
            "x": {"field": "tt", "type": "quantitative", "scale": {"domain": [3, 60], "nice": false, "zero": false},
                  "axis": {"values": [3,4,5,6,7,8,9,10,11,12,13,14,15,16,17,18,19,20,21,22,23,24,25,26,27,28,29,30,31,32,33,34,35,36,37,38,39,40,41,42,43,44,45,46,47,48,49,50,51,52,53,54,55,56,57,58,59,60],
                           "domain": true, "domainColor": "black", "domainWidth": 2,
                           "tickSize": {"condition": {"test": "datum.value % 5 === 0", "value": 14}, "value": 7},
                           "labelExpr": "datum.value % 5 === 0 ? datum.label : ''",
                           "labelOverlap": false, "labelFlush": false, "labelBound": false, "labelPadding": 11,
                           "title": "2θ (°)", "titleFontSize": 22, "titlePadding": 4, "titleX": 315}},
            "y": {"field": "I", "type": "quantitative", "scale": {"domain": [0, 100], "nice": false}, "axis": null}
          },
          "layer": [
            {"data": {"name": "sticks"}, "transform": [{"filter": "datum.panel === 'G'"}], "mark": "rule", "encoding": {"y2": {"datum": 0}}},
            {"data": {"name": "letters"}, "transform": [{"filter": "datum.panel === 'G'"}], "mark": {"type": "text", "font": "Liberation Sans", "fontWeight": "bold", "fontSize": 19, "baseline": "middle"}, "encoding": {"text": {"field": "text"}}},
            {"data": {"name": "notes"}, "transform": [{"filter": "datum.panel === 'G'"}], "mark": {"type": "text", "align": "left", "baseline": "alphabetic"}, "encoding": {"text": {"field": "text"}}}
          ]
        }
      ],
      "spacing": 0, "bounds": "flush"
    }
  ],
  "spacing": 12
}
